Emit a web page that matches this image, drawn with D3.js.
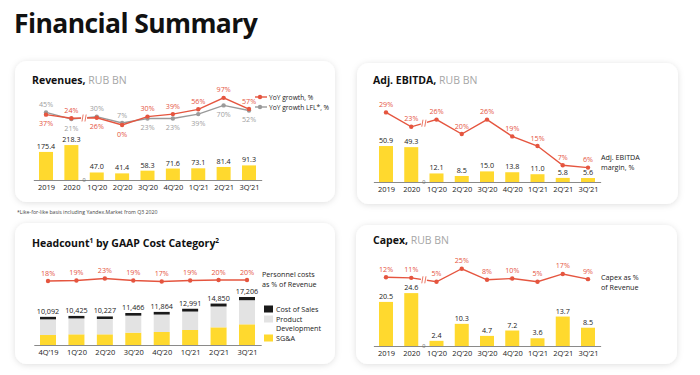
<!DOCTYPE html>
<html>
<head>
<meta charset="utf-8">
<script src="https://cdn.jsdelivr.net/npm/d3@7"></script>
<style>
  body { margin: 0; background: #fff; }
  svg { display: block; font-family: "Open Sans", sans-serif; }
</style>
</head>
<body>
<svg id="chart" width="700" height="375"></svg>
<script>
// ---- data ----
const yearQuarters = ['2019', '2020', '1Q’20', '2Q’20', '3Q’20', '4Q’20', '1Q’21', '2Q’21', '3Q’21'];

const revenues = [175.4, 218.3, 47.0, 41.4, 58.3, 71.6, 73.1, 81.4, 91.3];
const revGrowth = [37, 24, 26, 0, 30, 39, 56, 97, 57];
const revGrowthLfl = [45, 21, 30, 7, 23, 23, 39, 70, 52];
// where each % label sits relative to its dot
const revGrowthPos = ['below', 'above', 'below', 'below', 'above', 'above', 'above', 'above', 'above'];
const revLflPos = ['above', 'below', 'above', 'above', 'below', 'below', 'below', 'below', 'below'];

const ebitda = [50.9, 49.3, 12.1, 8.5, 15.0, 13.8, 11.0, 5.8, 5.6];
const ebitdaMargin = [29, 23, 26, 20, 26, 19, 15, 7, 6];

const capex = [20.5, 24.6, 2.4, 10.3, 4.7, 7.2, 3.6, 13.7, 8.5];
const capexShare = [12, 11, 5, 25, 8, 10, 5, 17, 9];

const hcQuarters = ['4Q’19', '1Q’20', '2Q’20', '3Q’20', '4Q’20', '1Q’21', '2Q’21', '3Q’21'];
const hcTotal = [10092, 10425, 10227, 11466, 11864, 12991, 14850, 17206];
const hcSga = [3580, 3820, 3820, 4420, 4660, 5380, 6330, 7410];
const hcCostOfSales = [900, 900, 900, 950, 950, 1000, 1050, 1150];
const hcProductDev = hcTotal.map((t, i) => t - hcSga[i] - hcCostOfSales[i]);
const personnelShare = [18, 19, 23, 19, 17, 19, 20, 20];

const YELLOW = '#FFD92E';
const RED = '#E5553F';
const GREY_LINE = '#9a9a9a';
const TEXT = '#222';

const svg = d3.select('#chart');

// soft card shadow
const defs = svg.append('defs');
defs.append('filter').attr('id', 'shadow')
  .attr('x', '-10%').attr('y', '-10%').attr('width', '120%').attr('height', '125%')
  .append('feDropShadow')
  .attr('dx', 0).attr('dy', 1).attr('stdDeviation', 3)
  .attr('flood-color', '#000').attr('flood-opacity', 0.13);

svg.append('text')
  .attr('x', 14).attr('y', 33)
  .attr('font-size', 26.5).attr('font-weight', 700)
  .attr('letter-spacing', -0.6)
  .attr('fill', '#111')
  .text('Financial Summary');

function card(x, y, w, h) {
  svg.append('rect')
    .attr('x', x).attr('y', y).attr('width', w).attr('height', h)
    .attr('rx', 12)
    .attr('fill', '#fff')
    .attr('filter', 'url(#shadow)');
}

function cardTitle(x, y, bold, light) {
  const t = svg.append('text').attr('x', x).attr('y', y).attr('font-size', 10.5);
  t.append('tspan').attr('font-weight', 700).attr('fill', '#111').text(bold);
  if (light) t.append('tspan').attr('fill', '#a6a6a6').text(' ' + light);
  return t;
}

function breakMark(g, cx, cy) {
  g.append('rect').attr('x', cx - 3).attr('y', cy - 4).attr('width', 6).attr('height', 8).attr('fill', '#fff');
  [-1.5, 1.5].forEach(dx => {
    g.append('line')
      .attr('x1', cx + dx - 0.6).attr('x2', cx + dx + 0.6)
      .attr('y1', cy + 3.5).attr('y2', cy - 3.5)
      .attr('stroke', RED).attr('stroke-width', 0.8);
  });
}

function xAxis(g, x, base) {
  const ax = g.append('g')
    .attr('transform', `translate(0,${base})`)
    .call(d3.axisBottom(x).tickSize(0).tickSizeOuter(0).tickPadding(5));
  ax.select('.domain').attr('stroke', '#8a8a8a').attr('stroke-width', 1);
  ax.selectAll('text').attr('font-size', 7.5).attr('fill', TEXT).attr('font-family', '"Open Sans", sans-serif');
  return ax;
}

function pointScale(cats, first, last) {
  const step = (last - first) / (cats.length - 1);
  return d3.scalePoint().domain(cats).range([first - step / 2, last + step / 2]).padding(0.5);
}

function bars(g, x, y, cats, values, fmt) {
  const base = y(0);
  g.append('g').selectAll('rect')
    .data(values)
    .join('rect')
    .attr('x', (d, i) => x(cats[i]) - 7)
    .attr('width', 14)
    .attr('y', d => y(d))
    .attr('height', d => base - y(d))
    .attr('fill', YELLOW);
  g.append('g').selectAll('text')
    .data(values)
    .join('text')
    .attr('x', (d, i) => x(cats[i]))
    .attr('y', d => y(d) - 3)
    .attr('text-anchor', 'middle')
    .attr('font-size', 7.2)
    .attr('fill', TEXT)
    .text(fmt);
}

function line(g, x, y, cats, values, color) {
  g.append('path')
    .datum(values)
    .attr('fill', 'none')
    .attr('stroke', color)
    .attr('stroke-width', 1.4)
    .attr('d', d3.line().x((d, i) => x(cats[i])).y(d => y(d)));
  g.append('g').selectAll('circle')
    .data(values)
    .join('circle')
    .attr('cx', (d, i) => x(cats[i]))
    .attr('cy', d => y(d))
    .attr('r', 2.2)
    .attr('fill', color);
}

function lineLabels(g, x, y, cats, values, color, pos) {
  g.append('g').selectAll('text')
    .data(values)
    .join('text')
    .attr('x', (d, i) => x(cats[i]))
    .attr('y', (d, i) => (pos[i] === 'below' ? y(d) + 11.5 : y(d) - 5.5))
    .attr('text-anchor', 'middle')
    .attr('font-size', 7.2)
    .attr('fill', color)
    .text(d => d + '%');
}

function zeroMark(g, x, base) {
  const cx = (x(yearQuarters[1]) + x(yearQuarters[2])) / 2;
  g.append('text')
    .attr('x', cx).attr('y', base + 1.5)
    .attr('text-anchor', 'middle')
    .attr('font-size', 5.5)
    .attr('fill', '#666')
    .text('0');
  return cx;
}

// ---- Revenues ----
card(15, 61, 320, 141);
cardTitle(32, 84, 'Revenues,', 'RUB BN');
{
  const g = svg.append('g');
  const x = pointScale(yearQuarters, 46, 249);
  const yb = d3.scaleLinear().domain([0, 250]).range([180, 140]);
  const yl = d3.scaleLinear().domain([0, 100]).range([125, 97]);
  bars(g, x, yb, yearQuarters, revenues, d3.format('.1f'));
  xAxis(g, x, 180);
  zeroMark(g, x, 180);
  line(g, x, yl, yearQuarters, revGrowthLfl, GREY_LINE);
  line(g, x, yl, yearQuarters, revGrowth, RED);
  const bx = (x(yearQuarters[1]) + x(yearQuarters[2])) / 2;
  breakMark(g, bx, (yl(revGrowth[1]) + yl(revGrowth[2])) / 2);
  lineLabels(g, x, yl, yearQuarters, revGrowthLfl, '#a0a0a0', revLflPos);
  lineLabels(g, x, yl, yearQuarters, revGrowth, RED, revGrowthPos);

  const legend = [['YoY growth, %', RED, 97], ['YoY growth LFL*, %', GREY_LINE, 107]];
  legend.forEach(([label, color, ly]) => {
    g.append('line').attr('x1', 255).attr('x2', 267).attr('y1', ly).attr('y2', ly)
      .attr('stroke', color).attr('stroke-width', 1.4);
    g.append('circle').attr('cx', 260).attr('cy', ly).attr('r', 2.2).attr('fill', color);
    g.append('text').attr('x', 269).attr('y', ly + 2.5).attr('font-size', 6.7).attr('fill', TEXT).text(label);
  });
}
svg.append('text')
  .attr('x', 17).attr('y', 214)
  .attr('font-size', 5.2).attr('fill', '#444')
  .text('*Like-for-like basis including Yandex.Market from Q3 2020');

// ---- Adj. EBITDA ----
card(357, 63, 321, 141);
cardTitle(373, 84, 'Adj. EBITDA,', 'RUB BN');
{
  const g = svg.append('g');
  const x = pointScale(yearQuarters, 386, 588);
  const yb = d3.scaleLinear().domain([0, 60]).range([182, 139.6]);
  const yl = d3.scaleLinear().domain([0, 30]).range([182, 110]);
  bars(g, x, yb, yearQuarters, ebitda, d3.format('.1f'));
  xAxis(g, x, 182);
  zeroMark(g, x, 182);
  line(g, x, yl, yearQuarters, ebitdaMargin, RED);
  const bx = (x(yearQuarters[1]) + x(yearQuarters[2])) / 2;
  breakMark(g, bx, (yl(ebitdaMargin[1]) + yl(ebitdaMargin[2])) / 2);
  lineLabels(g, x, yl, yearQuarters, ebitdaMargin, RED, ebitdaMargin.map(() => 'above'));
  const t = g.append('text').attr('x', 601).attr('y', 160).attr('font-size', 7.2).attr('fill', TEXT);
  t.append('tspan').attr('x', 601).text('Adj. EBITDA');
  t.append('tspan').attr('x', 601).attr('dy', 9.5).text('margin, %');
}

// ---- Headcount ----
card(15, 223, 320, 141);
{
  const t = svg.append('text').attr('x', 32).attr('y', 247).attr('font-size', 10.5)
    .attr('font-weight', 700).attr('fill', '#111');
  t.append('tspan').text('Headcount');
  t.append('tspan').attr('font-size', 6.5).attr('dy', -4).text('1');
  t.append('tspan').attr('dy', 4).text(' by GAAP Cost Category');
  t.append('tspan').attr('font-size', 6.5).attr('dy', -4).text('2');

  const g = svg.append('g');
  const x = pointScale(hcQuarters, 48, 247);
  const yb = d3.scaleLinear().domain([0, 20000]).range([345, 289.2]);
  const yl = d3.scaleLinear().domain([0, 30]).range([290, 275]);

  const table = hcQuarters.map((q, i) => ({ q, sga: hcSga[i], pd: hcProductDev[i], cos: hcCostOfSales[i] }));
  const keys = ['sga', 'pd', 'cos'];
  const colors = { sga: YELLOW, pd: '#e3e3e3', cos: '#1a1a1a' };
  const series = d3.stack().keys(keys)(table);
  g.append('g').selectAll('g')
    .data(series)
    .join('g')
    .attr('fill', s => colors[s.key])
    .selectAll('rect')
    .data(s => s)
    .join('rect')
    .attr('x', d => x(d.data.q) - 8)
    .attr('width', 16)
    .attr('y', d => yb(d[1]))
    .attr('height', d => yb(d[0]) - yb(d[1]));
  g.append('g').selectAll('text')
    .data(hcTotal)
    .join('text')
    .attr('x', (d, i) => x(hcQuarters[i]))
    .attr('y', d => yb(d) - 3)
    .attr('text-anchor', 'middle')
    .attr('font-size', 7.2)
    .attr('fill', TEXT)
    .text(d3.format(','));
  xAxis(g, x, 345);
  line(g, x, yl, hcQuarters, personnelShare, RED);
  lineLabels(g, x, yl, hcQuarters, personnelShare, RED, personnelShare.map(() => 'above'));

  const pt = g.append('text').attr('x', 262).attr('y', 277).attr('font-size', 7.2).attr('fill', TEXT);
  pt.append('tspan').attr('x', 262).text('Personnel costs');
  pt.append('tspan').attr('x', 262).attr('dy', 9.5).text('as % of Revenue');

  const legend = [
    { key: 'cos', lines: ['Cost of Sales'], y: 309 },
    { key: 'pd', lines: ['Product', 'Development'], y: 319 },
    { key: 'sga', lines: ['SG&A'], y: 338 }
  ];
  legend.forEach(l => {
    g.append('rect').attr('x', 264).attr('y', l.y - 3.5).attr('width', 9).attr('height', 7).attr('fill', colors[l.key]);
    const lt = g.append('text').attr('x', 276).attr('y', l.y + 2.5).attr('font-size', 7.2).attr('fill', TEXT);
    l.lines.forEach((s, i) => lt.append('tspan').attr('x', 276).attr('dy', i ? 9.5 : 0).text(s));
  });
}

// ---- Capex ----
card(356, 225, 321, 139);
cardTitle(373, 244, 'Capex,', 'RUB BN');
{
  const g = svg.append('g');
  const x = pointScale(yearQuarters, 386, 588);
  const yb = d3.scaleLinear().domain([0, 30]).range([346, 281.5]);
  const yl = d3.scaleLinear().domain([0, 30]).range([285, 265.5]);
  bars(g, x, yb, yearQuarters, capex, d3.format('.1f'));
  xAxis(g, x, 346);
  zeroMark(g, x, 346);
  line(g, x, yl, yearQuarters, capexShare, RED);
  const bx = (x(yearQuarters[1]) + x(yearQuarters[2])) / 2;
  breakMark(g, bx, (yl(capexShare[1]) + yl(capexShare[2])) / 2);
  lineLabels(g, x, yl, yearQuarters, capexShare, RED, capexShare.map(() => 'above'));
  const t = g.append('text').attr('x', 601).attr('y', 280).attr('font-size', 7.2).attr('fill', TEXT);
  t.append('tspan').attr('x', 601).text('Capex as %');
  t.append('tspan').attr('x', 601).attr('dy', 9.5).text('of Revenue');
}
</script>
</body>
</html>
